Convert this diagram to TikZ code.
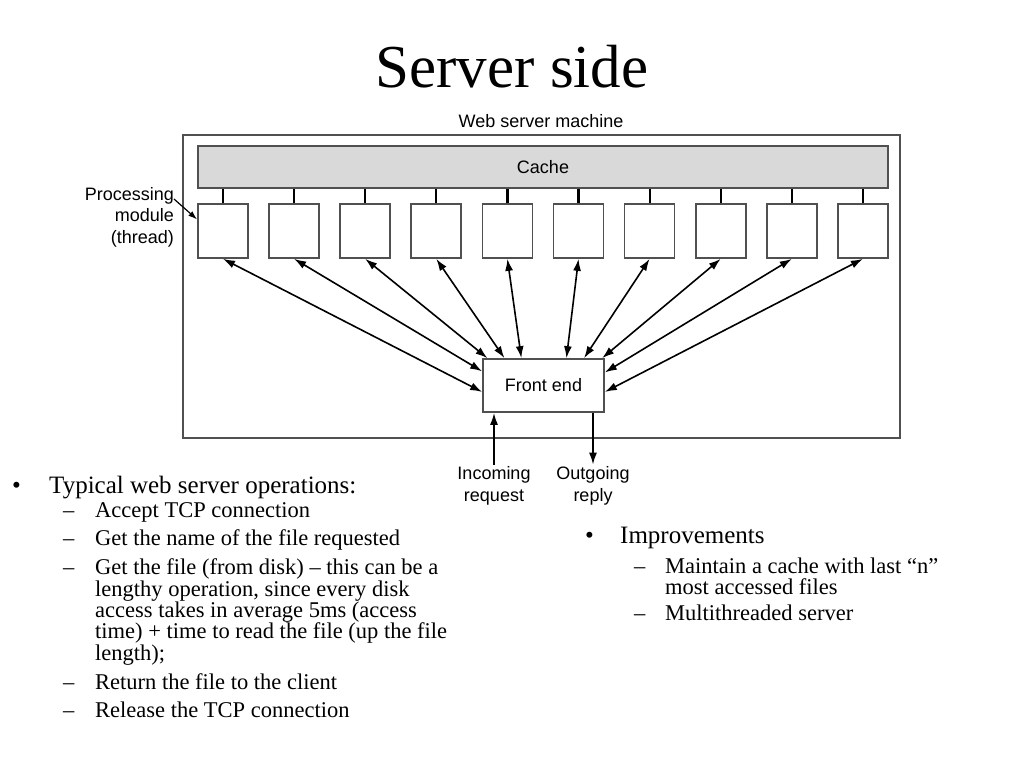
\documentclass[tikz,border=0pt]{standalone}
\usepackage{fontspec}
\setmainfont{Liberation Serif}
\newfontfamily\figfont{Liberation Sans}
\usetikzlibrary{arrows.meta, positioning}
\definecolor{frameGray}{RGB}{80,80,80}
\definecolor{cacheGray}{RGB}{217,217,217}
\tikzset{
  box/.style={rectangle, draw=frameGray, line width=1.7pt, fill=white, inner sep=0pt, font=\figfont\fontsize{18}{21.5}\selectfont},
  module/.style={box, minimum width=50pt, minimum height=54pt},
  figtext/.style={font=\figfont\fontsize{18}{21.5}\selectfont, align=center, inner sep=2pt},
  arrow/.style={{Latex[length=12pt,width=8pt]}-{Latex[length=12pt,width=8pt]}, line width=1.6pt},
  oneway/.style={-{Latex[length=12pt,width=8pt]}, line width=1.8pt},
  thinarrow/.style={-{Latex[length=9pt,width=6pt]}, line width=1.2pt},
  link/.style={line width=2.2pt, draw=black},
  bulletmark/.style={anchor=base west, inner sep=0pt, font=\fontsize{25}{25}\selectfont},
  head/.style={anchor=base west, inner sep=0pt, font=\fontsize{25}{25}\selectfont},
  item/.style={anchor=base west, inner sep=0pt, font=\fontsize{22.5}{21.5}\selectfont},
}

\begin{document}
\begin{tikzpicture}[x=1pt, y=-1pt]
    \useasboundingbox (0,0) rectangle (1024,768);
    \node[anchor=base, inner sep=0pt, font=\fontsize{61}{61}\selectfont] (title) at (512,87) {Server side};

    \node[box, minimum width=717pt, minimum height=303pt, fill=none] (machine) at (541.5,286.5) {};
    \node[figtext, anchor=base, inner sep=0pt] (machinelbl) at (541,127) {Web server machine};
    \node[box, fill=cacheGray, minimum width=690pt, minimum height=42pt] (cache) at (543,167) {Cache};
    \foreach \i in {0,...,9} {
      \node[module] (m\i) at (223+71.1*\i,231) {};
      \draw[link] (m\i.north) -- (m\i.north |- cache.south);
    }
    \node[box, minimum width=121pt, minimum height=53pt] (fe) at (543.5,385.5) {Front end};
    \foreach \i/\a in {0/186.1, 1/167.4, 2/154.3, 3/145.1, 4/129.7, 5/50.3, 6/34.9, 7/25.7, 8/12.6, 9/-6.1}
      \draw[arrow] (m\i.south) -- (fe.\a);

    \node[figtext, align=right, anchor=east] (proc) at (176,217) {Processing\\module\\(thread)};
    \coordinate (procend) at (174,199);
    \draw[thinarrow] (procend) -- (m0.156);

    \node[figtext] (inc) at (494,486) {Incoming\\request};
    \node[figtext] (outg) at (593,486) {Outgoing\\reply};
    \draw[oneway] (inc.north) -- (inc.north |- fe.south);
    \draw[oneway] (outg.north |- fe.south) -- (outg.north);

    \node[bulletmark] (b1) at (12,493) {\textbullet};
    \node[head] (ops) at (49,493) {Typical web server operations:};
    \foreach \y/\t [count=\k] in {517/{Accept TCP connection}, 545/{Get the name of the file requested}, 574/{Get the file (from disk) \textendash{} this can be a}, 689/{Return the file to the client}, 717/{Release the TCP connection}} {
      \node[item] (d\k) at (63,\y) {\textendash};
      \node[item] (op\k) at (95,\y) {\t};
    }
    \foreach \y/\t [count=\k] in {596/{lengthy operation, since every disk}, 617/{access takes in average 5ms (access}, 638/{time) + time to read the file (up the file}, 660/{length);}}
      \node[item] (cont\k) at (95,\y) {\t};

    \node[bulletmark] (b2) at (585,543) {\textbullet};
    \node[head] (impr) at (620,543) {Improvements};
    \node[item] (e1) at (634,573) {\textendash};
    \node[item] (cache1) at (665,573) {Maintain a cache with last “n”};
    \node[item] (cache2) at (665,594) {most accessed files};
    \node[item] (e2) at (634,620) {\textendash};
    \node[item] (multi) at (665,620) {Multithreaded server};
  \end{tikzpicture}
\end{document}
